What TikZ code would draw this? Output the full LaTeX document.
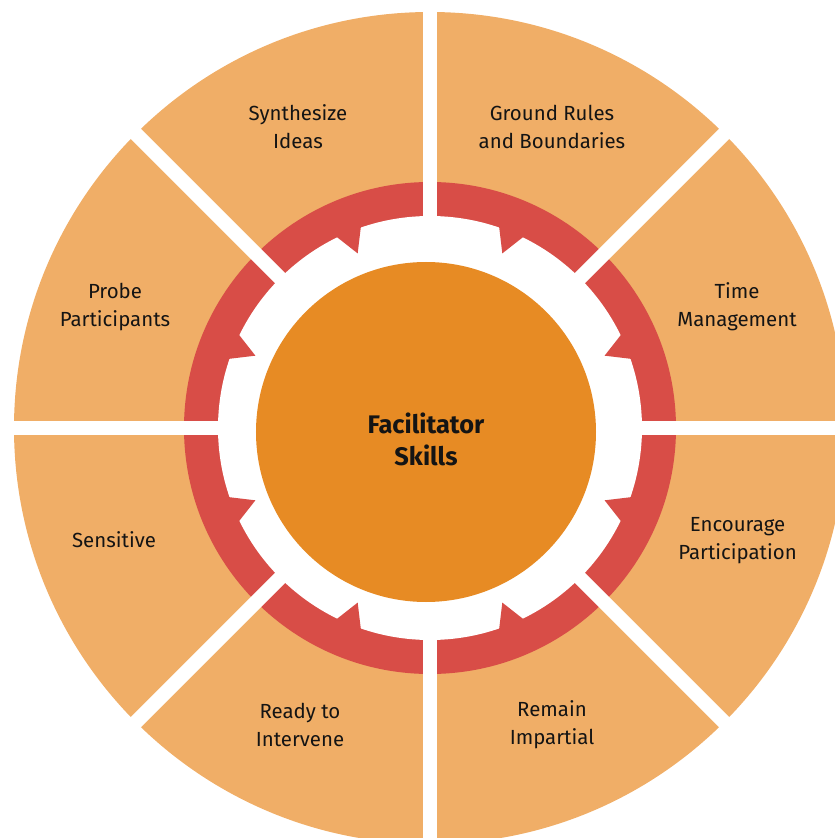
\documentclass[tikz,border=0pt]{standalone}
\usepackage{fontspec}
\setmainfont{Fira Sans}
\definecolor{peach}{HTML}{F0AE67}
\definecolor{brick}{HTML}{D84D47}
\definecolor{tangerine}{HTML}{E78B24}
\begin{document}
\begin{tikzpicture}[x=1bp,y=1bp,line join=round,
    skill/.style={align=center,text=black!92,font=\fontsize{20.5}{28}\selectfont},
    core/.style={align=center,text=black!92,font=\bfseries\fontsize{25.5}{32}\selectfont}]
	\useasboundingbox (-430,-410) rectangle (405,428);
	\clip (-430,-410) rectangle (405,428);
	% outer wheel, red ring and the white gear track
	\fill[peach] (0,0) circle (416);
	\fill[brick] (0,0) circle (246);
	\fill[white] (0,0) circle (212);
	\foreach \m in {22.5,67.5,...,337.5}
		\fill[brick] (\m-3.7:214) -- (\m:189) -- (\m+3.7:214) -- cycle;
	% spokes between the eight skills
	\foreach \a in {0,45,...,315}
		\draw[white,line width=14.5] (\a:200) -- (\a:460);
	\fill[tangerine] (-4,-4) circle (170);
	\node[core] (hub) at (-4,-11) {Facilitator\\Skills};

	\foreach \n/\p/\t in {synth/{-132,301}/{Synthesize\\Ideas},rules/{122,301}/{Ground Rules\\and Boundaries},
			probe/{-315,121}/{Probe\\Participants},time/{307,121}/{Time\\Management},
			sens/{-316,-112}/{Sensitive},encour/{307.5,-113}/{Encourage\\Participation},
			ready/{-130,-297}/{Ready to\\Intervene},remain/{122,-297}/{Remain\\Impartial}}
		\node[skill] (\n) at (\p) {\t};
\end{tikzpicture}
\end{document}
